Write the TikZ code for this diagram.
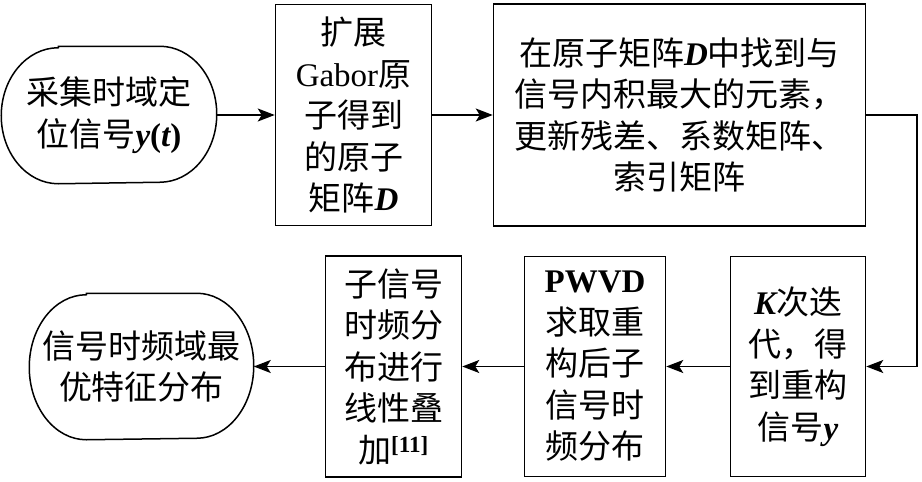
\documentclass[tikz,border=0pt]{standalone}
\usepackage{fontspec}
\setmainfont{Noto Sans CJK SC}
\newfontfamily\latfont{Liberation Serif}
\usetikzlibrary{arrows.meta}
\newcommand{\tb}[1]{{\latfont\bfseries #1}}
\newcommand{\tr}[1]{{\latfont #1}}
\newcommand{\vb}[1]{{\latfont\bfseries\itshape #1}}

\begin{document}
\begin{tikzpicture}[x=1pt,y=-1pt,line width=1.5pt,
  font=\fontsize{33}{41.5}\selectfont,
  >={Stealth[length=17pt,width=13pt,inset=4pt]},
  stepbox/.style={draw,align=center,inner sep=0pt},
  endbox/.style={align=center,inner sep=0pt}]
  \useasboundingbox (0,0) rectangle (922,482);
  % top row
  \node[endbox,minimum width=214pt,minimum height=136pt] (acquire) at (109,115)
    {采集时域定\\位信号\vb{y}\tb{(}\vb{t}\tb{)}};
  \node[stepbox,minimum width=156pt,minimum height=221pt] (extend) at (353.5,115)
    {扩展\\\tr{Gabor}原\\子得到\\的原子\\矩阵\vb{D}};
  \node[stepbox,minimum width=372pt,minimum height=222pt] (search) at (679.5,115)
    {在原子矩阵\vb{D}中找到与\\信号内积最大的元素，\\更新残差、系数矩阵、\\索引矩阵};
  % bottom row
  \node[stepbox,minimum width=135pt,minimum height=220pt] (iterate) at (798,366.5)
    {\vb{K}次迭\\代，得\\到重构\\信号\vb{y}};
  \node[stepbox,minimum width=141pt,minimum height=220pt] (pwvd) at (595,366.5)
    {\tb{PWVD}\\求取重\\构后子\\信号时\\频分布};
  \node[stepbox,minimum width=136pt,minimum height=221pt] (superpose) at (393.5,366.5)
    {子信号\\时频分\\布进行\\线性叠\\加\textsuperscript{\tb{[11]}}};
  \node[endbox,minimum width=223pt,minimum height=145pt] (result) at (141.5,366.5)
    {信号时频域最\\优特征分布};
  % outlines of the two end nodes, elliptic ends
  \foreach \nd/\ry in {acquire/68,result/72.5}
    \draw ([xshift=57pt]\nd.north west) -- ([xshift=-57pt]\nd.north east)
      arc[start angle=90,end angle=-90,x radius=57pt,y radius=\ry pt]
      -- ([xshift=57pt]\nd.south west)
      arc[start angle=-90,end angle=-270,x radius=57pt,y radius=\ry pt] -- cycle;
  \coordinate (turn) at (917,115);
  \foreach \from/\to in {acquire/extend,extend/search,iterate/pwvd,pwvd/superpose,superpose/result}
    \draw[->] (\from) -- (\to);
  \draw[->] (search.east) -- (turn) |- (iterate.east);
\end{tikzpicture}
\end{document}
